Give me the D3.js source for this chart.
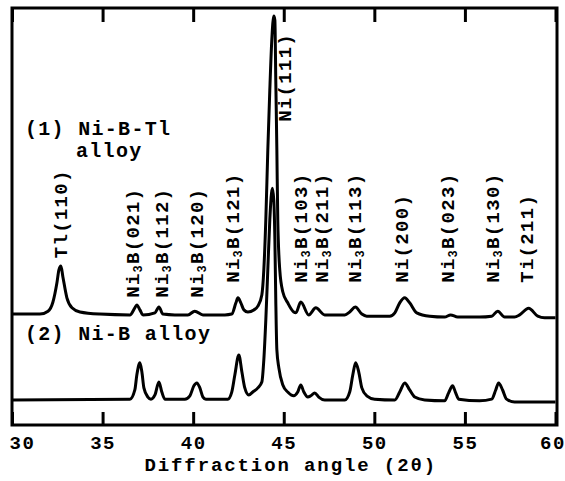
<!DOCTYPE html>
<html>
<head>
<meta charset="utf-8">
<script src="https://cdn.jsdelivr.net/npm/d3@7"></script>
<style>
  body { margin: 0; background: #fff; }
  svg { display: block; }
  text { font-family: "Liberation Mono", "Courier New", monospace; font-weight: bold; fill: #000; }
</style>
</head>
<body>
<svg id="canvas"></svg>
<script>
// curve (1) Ni-B-Tl alloy : 2theta and intensity (a.u., offset)
const angle1 = [30.00, 31.54, 31.99, 32.26, 32.48, 32.59, 32.70, 32.81, 33.03, 33.31, 33.75, 34.85,
  36.51, 36.78, 36.89, 37.06, 37.23, 37.89, 38.11, 38.33, 38.99, 39.71, 40.09, 40.54, 41.75,
  42.13, 42.36, 42.47, 42.63, 42.80, 43.02, 43.35, 43.57, 43.79, 43.90, 44.01, 44.12, 44.23,
  44.34, 44.45, 44.51, 44.56, 44.62, 44.67, 44.78, 44.95, 45.22, 45.55, 45.67, 45.94, 46.38,
  46.77, 47.26, 48.37, 48.64, 48.95, 49.31, 49.58, 50.85, 51.13, 51.40, 51.68, 51.95, 52.34,
  53.06, 53.88, 54.21, 54.60, 55.81, 56.48, 56.81, 57.19, 57.74, 58.02, 58.52, 59.02, 59.40, 60.00]
const inten1 = [26.6, 26.6, 27.3, 29.5, 34.1, 37.2, 38.1, 35.5, 30.5, 28.1, 27.1, 26.6,
  26.4, 28.1, 28.8, 27.6, 26.4, 26.9, 28.3, 26.6, 26.4, 26.4, 27.3, 26.4, 26.4,
  26.6, 29.3, 30.5, 29.3, 27.6, 27.1, 27.6, 28.5, 31.2, 37.2, 49.2, 65.9, 80.3,
  92.3, 98.1, 97.1, 82.7, 65.9, 49.2, 37.2, 31.9, 29.3, 27.1, 26.9, 29.5, 26.4,
  28.1, 26.4, 26.4, 27.1, 28.3, 26.6, 26.1, 26.1, 26.9, 29.3, 30.5, 29.3, 26.9,
  26.1, 25.9, 26.4, 25.9, 25.9, 26.1, 27.3, 25.9, 25.9, 26.4, 28.0, 26.1, 25.7, 25.7]

// curve (2) Ni-B alloy
const angle2 = [30.00, 36.51, 36.78, 36.89, 37.06, 37.17, 37.28, 37.50, 37.67, 37.89, 38.11, 38.27,
  38.44, 39.54, 39.82, 40.04, 40.20, 40.37, 40.54, 40.70, 41.91, 42.13, 42.30, 42.52, 42.69,
  42.85, 43.07, 43.29, 43.57, 43.79, 43.90, 44.01, 44.12, 44.23, 44.37, 44.45, 44.51, 44.56,
  44.62, 44.73, 44.95, 45.22, 45.55, 45.77, 45.94, 46.11, 46.33, 46.49, 46.71, 46.93, 47.26,
  48.37, 48.64, 48.81, 48.97, 49.14, 49.31, 49.58, 50.02, 51.13, 51.40, 51.68, 51.95, 52.23,
  52.78, 53.88, 54.10, 54.32, 54.49, 54.66, 55.81, 56.48, 56.70, 56.86, 57.08, 57.30, 57.74, 60.00]
const inten2 = [6.0, 6.2, 8.4, 12.0, 14.9, 12.7, 8.9, 6.7, 6.2, 7.2, 10.3, 7.9,
  6.2, 6.2, 7.0, 9.4, 10.1, 8.9, 6.7, 6.2, 6.2, 7.9, 12.0, 16.8, 12.7,
  8.9, 7.2, 7.9, 8.9, 10.3, 15.6, 25.2, 37.2, 49.2, 56.8, 54.0, 44.6, 30.0,
  18.0, 13.7, 9.6, 7.9, 7.0, 7.9, 9.6, 7.9, 6.7, 7.0, 7.7, 6.7, 6.0,
  6.0, 7.9, 12.0, 14.9, 12.7, 8.9, 7.0, 6.2, 6.0, 7.9, 10.1, 8.4, 6.7,
  6.0, 5.8, 7.7, 9.4, 7.7, 6.2, 5.8, 6.2, 8.4, 10.1, 8.4, 6.2, 5.5, 5.5]

// peak labels: text, 2theta, intensity at foot of label
const peakNames = ["Tl(110)", "Ni3B(021)", "Ni3B(112)", "Ni3B(120)", "Ni3B(121)", "Ni(111)",
  "Ni3B(103)", "Ni3B(211)", "Ni3B(113)", "Ni(200)", "Ni3B(023)", "Ni3B(130)", "Ti(211)"]
const peakAngles = [32.65, 36.62, 38.27, 40.20, 42.19, 45.06, 45.89, 47.10, 48.92, 51.51, 54.05, 56.53, 58.41]
const peakFoot = [40.0, 30.5, 30.5, 30.5, 34.1, 72.7, 34.1, 34.1, 34.1, 34.1, 34.1, 34.1, 34.1]

const tickValues = [30, 35, 40, 45, 50, 55, 60]

const width = 565
const height = 481

let canvas = d3.select("#canvas")
canvas.attr("width", width).attr("height", height)

let xScale = d3.scaleLinear().domain([30, 60]).range([12, 555.5])
let yScale = d3.scaleLinear().domain([0, 100]).range([425, 8])

// frame
canvas.append("rect")
  .attr("x", xScale(30)).attr("y", yScale(100))
  .attr("width", xScale(60) - xScale(30) + 1.5)
  .attr("height", yScale(0) - yScale(100))
  .attr("fill", "none").attr("stroke", "#000").attr("stroke-width", 3)

// bottom axis
let xAxis = d3.axisBottom(xScale).tickValues(tickValues).tickSize(-13).tickPadding(10.5)
let gx = canvas.append("g")
  .attr("transform", `translate(0, ${yScale(0)})`)
  .call(xAxis)
gx.select(".domain").remove()
gx.selectAll(".tick line").attr("stroke", "#000").attr("stroke-width", 3)
gx.selectAll(".tick text")
  .attr("font-size", 19).attr("letter-spacing", 1.5)
  .style("font-family", '"Liberation Mono", monospace')
  .attr("dx", d => d === 30 ? 10 : (d === 60 ? -3 : 0))

// top axis ticks
let topAxis = d3.axisTop(xScale).tickValues(tickValues).tickSize(-14).tickFormat("")
let gt = canvas.append("g")
  .attr("transform", `translate(0, ${yScale(100)})`)
  .call(topAxis)
gt.select(".domain").remove()
gt.selectAll(".tick line").attr("stroke", "#000").attr("stroke-width", 3)

// axis title
canvas.append("text")
  .attr("x", (xScale(30) + xScale(60)) / 2 + 7)
  .attr("y", 471)
  .attr("text-anchor", "middle")
  .attr("font-size", 19).attr("letter-spacing", 1.9)
  .text("Diffraction angle (2\u03B8)")

// curves
let line = d3.line()
  .x(d => xScale(d[0]))
  .y(d => yScale(d[1]))
  .curve(d3.curveMonotoneX)

canvas.append("path")
  .datum(d3.zip(angle1, inten1))
  .attr("d", line)
  .attr("fill", "none").attr("stroke", "#000").attr("stroke-width", 3)
  .attr("stroke-linejoin", "round")

canvas.append("path")
  .datum(d3.zip(angle2, inten2))
  .attr("d", line)
  .attr("fill", "none").attr("stroke", "#000").attr("stroke-width", 3)
  .attr("stroke-linejoin", "round")

// peak labels (vertical)
let labels = canvas.selectAll(".peak")
  .data(d3.zip(peakNames, peakAngles, peakFoot))
  .enter()
  .append("text")
  .attr("class", "peak")
  .attr("transform", d => `translate(${xScale(d[1])}, ${yScale(d[2])}) rotate(-90)`)
  .attr("dy", "0.35em")
  .attr("font-size", 19).attr("letter-spacing", 1.3)

labels.each(function (d) {
  let t = d3.select(this)
  let m = d[0].match(/^(Ni)3(B.*)$/)
  if (m) {
    t.append("tspan").text(m[1])
    t.append("tspan").attr("font-size", 12).attr("dy", 3).text("3")
    t.append("tspan").attr("dy", -3).text(m[2])
  } else {
    t.text(d[0])
  }
})

// legend texts
canvas.append("text").attr("x", 25).attr("y", 135)
  .attr("font-size", 20).attr("letter-spacing", 1.3).text("(1) Ni-B-Tl")
canvas.append("text").attr("x", 76).attr("y", 157)
  .attr("font-size", 20).attr("letter-spacing", 1.3).text("alloy")
canvas.append("text").attr("x", 25).attr("y", 340)
  .attr("font-size", 20).attr("letter-spacing", 1.3).text("(2) Ni-B alloy")
</script>
</body>
</html>
